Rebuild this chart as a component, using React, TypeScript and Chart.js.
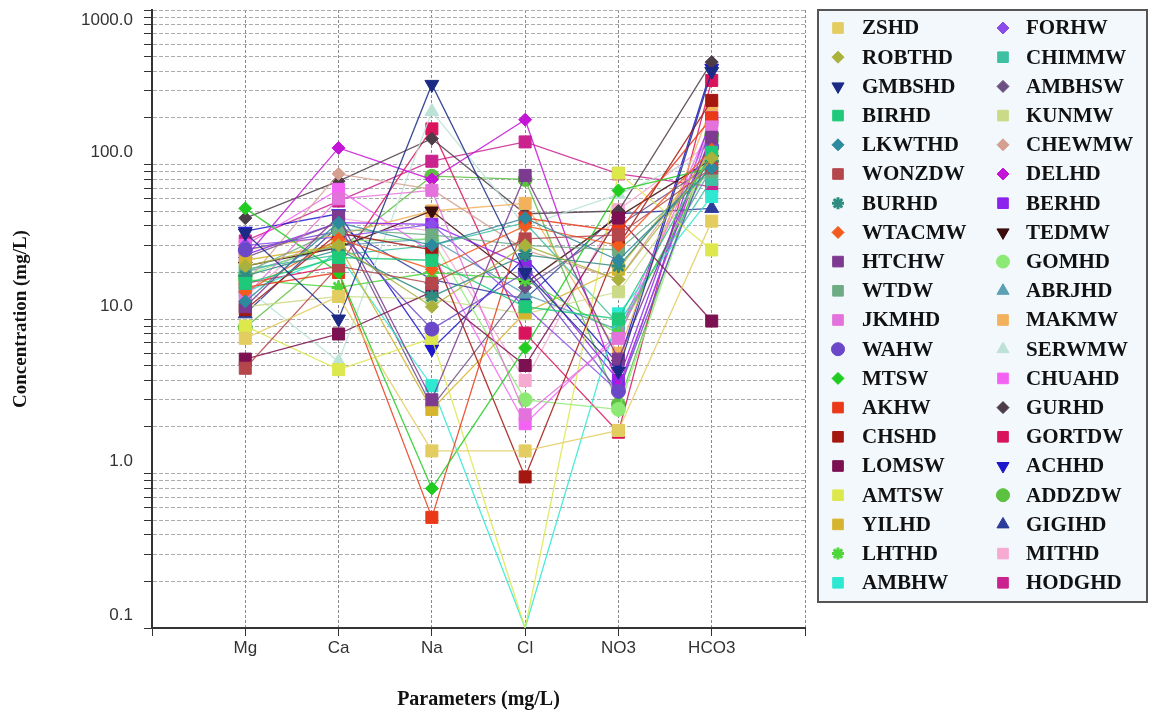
import React, { useEffect, useRef } from 'react';
import { Chart, registerables } from 'chart.js';
import { drawPoint } from 'chart.js/helpers';

Chart.register(...registerables);

// ---------- data ----------
const categories = ['Mg', 'Ca', 'Na', 'Cl', 'NO3', 'HCO3'];
const yTickLabels = [0.1, 1, 10, 100, 1000];

const stations = [
  'ZSHD', 'ROBTHD', 'GMBSHD', 'BIRHD', 'LKWTHD', 'WONZDW', 'BURHD', 'WTACMW', 'HTCHW', 'WTDW',
  'JKMHD', 'WAHW', 'MTSW', 'AKHW', 'CHSHD', 'LOMSW', 'AMTSW', 'YILHD', 'LHTHD', 'AMBHW',
  'FORHW', 'CHIMMW', 'AMBHSW', 'KUNMW', 'CHEWMW', 'DELHD', 'BERHD', 'TEDMW', 'GOMHD', 'ABRJHD',
  'MAKMW', 'SERWMW', 'CHUAHD', 'GURHD', 'GORTDW', 'ACHHD', 'ADDZDW', 'GIGIHD', 'MITHD', 'HODGHD',
];

const mg = [7.5, 22, 36, 17, 13, 4.8, 19, 15, 12, 20, 14, 28, 52, 16, 11.5, 5.5, 9, 24, 18, 15,
  30, 21, 25, 12, 17, 25, 26, 22, 19, 20, 28, 16, 30, 45, 17, 37, 8.8, 10.8, 14, 32];
const ca = [14, 30, 10, 25, 42, 22, 28, 33, 46, 38, 60, 37, 20, 20, 36, 8, 4.7, 30, 16, 26,
  34, 26, 42, 14, 87, 128, 42, 29, 32, 30, 35, 5.3, 69, 78, 22, 48, 28, 40, 45, 58];
const na = [1.4, 12, 330, 24, 30, 17, 14, 21, 3.0, 35, 68, 8.6, 0.8, 0.52, 28, 15, 7.5, 2.6, 20, 3.7,
  41, 30, 2.7, 13.5, 69, 80, 41, 50, 33, 33, 50, 220, 27, 147, 170, 6.4, 84, 18, 37, 105];
const cl = [1.4, 30, 20, 12, 45, 33, 26, 40, 85, 30, 2.4, 20, 6.5, 45, 0.95, 5, 0.1, 11, 18, 0.1,
  12, 42, 16, 10.8, 28, 195, 22, 17, 3.0, 14.5, 56, 40, 2.1, 48, 8.1, 25, 80, 13.5, 4.0, 140];
const no3 = [1.9, 18, 4.6, 10, 24, 35, 22, 30, 5.5, 28, 7.5, 3.4, 68, 37, 30, 45, 88, 21, 8, 10.8,
  3.4, 9.3, 40, 15, 18, 3.6, 4.0, 46, 2.6, 8.5, 6.0, 64, 8.1, 50, 1.85, 5.1, 2.8, 48, 51, 87];
const hco3 = [43, 110, 400, 120, 95, 95, 105, 125, 150, 90, 175, 130, 95, 200, 260, 9.7, 28, 120, 105, 62,
  180, 80, 100, 100, 125, 160, 200, 108, 145, 95, 240, 120, 190, 460, 350, 420, 155, 52, 140, 72];

// ---------- styles ----------
const colors = [
  '#E3CD60', '#AAB23C', '#1B2A85', '#1EC97A', '#2D8A9E', '#B5464C', '#2F8C80', '#F25A1E', '#7C3A90', '#6EAC84',
  '#E372DC', '#6A48C8', '#20CC20', '#EA3818', '#A51810', '#7C1050', '#DCE84C', '#D6B42E', '#4ED63C', '#2EE8D2',
  '#8C4CEA', '#3EC0A2', '#6C5082', '#CADA86', '#D6A090', '#C414D6', '#8C22EC', '#3C0C0C', '#8CEA74', '#5CA0B4',
  '#F2B25C', '#BCE2D8', '#F462F4', '#4C3C48', '#DA145C', '#1C16CC', '#5CC040', '#2C3C9A', '#F6AAD2', '#CA228E',
];
const markers = [
  'rect', 'rectRot', 'triDown', 'rect', 'rectRot', 'rect', 'star', 'rectRot', 'rect', 'rect',
  'rect', 'circle', 'rectRot', 'rect', 'rect', 'rect', 'rect', 'rect', 'star', 'rect',
  'rectRot', 'rect', 'rectRot', 'rect', 'rectRot', 'rectRot', 'rect', 'triDown', 'circle', 'triangle',
  'rect', 'triangle', 'rect', 'rectRot', 'rect', 'triDown', 'circle', 'triangle', 'rect', 'rect',
];

const serif = '"Liberation Serif", "Times New Roman", serif';
const sans = '"Liberation Sans", Arial, sans-serif';

function rgba(hex: string, a: number) {
  const n = parseInt(hex.slice(1), 16);
  return `rgba(${(n >> 16) & 255},${(n >> 8) & 255},${n & 255},${a})`;
}

function markerProps(m: string) {
  switch (m) {
    case 'rect': return { style: 'rect', radius: 8.5, rot: 0, legendR: 7.5 };
    case 'rectRot': return { style: 'rectRot', radius: 6.5, rot: 0, legendR: 6 };
    case 'triDown': return { style: 'triangle', radius: 8, rot: 180, legendR: 7 };
    case 'triangle': return { style: 'triangle', radius: 8, rot: 0, legendR: 7 };
    case 'circle': return { style: 'circle', radius: 7, rot: 0, legendR: 6.5 };
    case 'star': return { style: 'star', radius: 7, rot: 0, legendR: 6 };
    default: return { style: 'circle', radius: 6, rot: 0, legendR: 6 };
  }
}

const xLabels = ['', ...categories, ''];
const paramValues = [mg, ca, na, cl, no3, hco3];

const gridValues: number[] = [];
for (let e = -1; e <= 2; e++) {
  for (let k = 1; k <= 9; k++) gridValues.push(parseFloat((k * Math.pow(10, e)).toPrecision(3)));
}
gridValues.push(1000);

const overlayPlugin = {
  id: 'overlay',
  afterDraw(chart: any) {
    const ctx = chart.ctx as CanvasRenderingContext2D;
    const yScale = chart.scales.y;
    ctx.save();
    // y tick labels
    ctx.font = `17px ${sans}`;
    ctx.fillStyle = '#333';
    ctx.textAlign = 'right';
    ctx.textBaseline = 'middle';
    yTickLabels.forEach((v) => {
      const py = yScale.getPixelForValue(v);
      const ty = Math.max(py - 12.5, 20);
      ctx.fillText(v.toFixed(1), 133, ty);
    });

    // legend box
    const bx = 818, by = 10, bw = 329, bh = 592;
    ctx.fillStyle = '#F3F8FC';
    ctx.fillRect(bx, by, bw, bh);
    ctx.strokeStyle = '#555';
    ctx.lineWidth = 2;
    ctx.strokeRect(bx, by, bw, bh);

    ctx.textAlign = 'left';
    ctx.font = `bold 21px ${serif}`;
    chart.data.datasets.forEach((ds: any, i: number) => {
      const col = Math.floor(i / 20);
      const row = i % 20;
      const mx = col ? 1003 : 838;
      const tx = col ? 1026 : 862;
      const y = 28 + row * 29.2;
      const mp = markerProps(markers[i]);
      ctx.fillStyle = colors[i];
      ctx.strokeStyle = colors[i];
      ctx.lineWidth = mp.style === 'star' ? 3 : 1;
      drawPoint(ctx, { pointStyle: mp.style as any, radius: mp.legendR, rotation: mp.rot, borderWidth: mp.style === 'star' ? 3 : 1 }, mx, y);
      ctx.fillStyle = '#111';
      ctx.fillText(ds.label, tx, y + 1);
    });
    ctx.restore();
  },
};

export default function App() {
  const canvasRef = useRef<HTMLCanvasElement | null>(null);

  useEffect(() => {
    if (!canvasRef.current) return;
    const datasets = stations.map((name, i) => {
      const mp = markerProps(markers[i]);
      return {
        label: name,
        data: paramValues.map((arr, j) => ({ x: j + 1, y: arr[i] })),
        borderColor: rgba(colors[i], 0.85),
        backgroundColor: colors[i],
        pointBackgroundColor: colors[i],
        pointBorderColor: colors[i],
        pointStyle: mp.style,
        pointRotation: mp.rot,
        pointRadius: (c: any) => (c.raw && c.raw.y <= 0.1 ? 0 : mp.radius),
        pointBorderWidth: mp.style === 'star' ? 3 : 1,
        borderWidth: 1.3,
        tension: 0,
      };
    });

    const chart = new Chart(canvasRef.current, {
      type: 'line',
      data: { datasets: datasets as any },
      options: {
        animation: false,
        responsive: false,
        maintainAspectRatio: false,
        layout: { padding: { left: 0, right: 345, top: 10, bottom: 0 } },
        plugins: { legend: { display: false }, tooltip: { enabled: false } },
        scales: {
          x: {
            type: 'linear',
            min: 0,
            max: 7,
            afterBuildTicks: (scale: any) => {
              scale.ticks = xLabels.map((_, k) => ({ value: k }));
            },
            afterFit: (scale: any) => {
              scale.height = 85;
            },
            ticks: {
              callback: (v: any) => xLabels[Number(v)] ?? '',
              font: { family: sans, size: 17 },
              color: '#333',
              padding: 2,
              maxRotation: 0,
              autoSkip: false,
            },
            grid: { color: '#8a8a8a', tickColor: '#333', tickLength: 8, lineWidth: 1 },
            border: { display: true, color: '#333', width: 2, dash: [3, 2] },
            title: {
              display: true,
              text: 'Parameters (mg/L)',
              font: { family: serif, size: 20, weight: 'bold' },
              color: '#111',
              padding: { top: 0, bottom: 1 },
            },
          },
          y: {
            type: 'logarithmic',
            min: 0.1,
            max: 1000,
            afterBuildTicks: (scale: any) => {
              scale.ticks = gridValues.map((v) => ({ value: v }));
            },
            afterFit: (scale: any) => {
              scale.width = 152;
            },
            ticks: { display: false },
            grid: { color: '#ababab', tickColor: '#333', tickLength: 8, lineWidth: 1 },
            border: { display: true, color: '#333', width: 2, dash: [4, 2] },
            title: {
              display: true,
              text: 'Concentration (mg/L)',
              font: { family: serif, size: 19, weight: 'bold' },
              color: '#111',
              padding: { top: 10, bottom: 0 },
            },
          },
        },
      },
      plugins: [overlayPlugin],
    });
    return () => chart.destroy();
  }, []);

  return (
    <div style={{ position: 'absolute', left: 0, top: 0, width: 1150, height: 713, background: '#fff' }}>
      <canvas ref={canvasRef} width={1150} height={713} style={{ width: 1150, height: 713 }} />
    </div>
  );
}
